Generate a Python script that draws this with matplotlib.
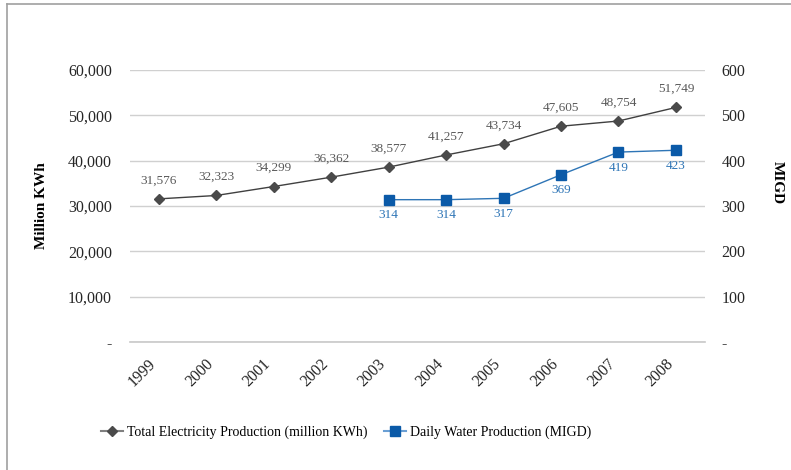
import matplotlib.pyplot as plt
import matplotlib.transforms as mtransforms
from matplotlib.lines import Line2D

years = ['1999', '2000', '2001', '2002', '2003', '2004', '2005', '2006', '2007', '2008']
electricity = [31576, 32323, 34299, 36362, 38577, 41257, 43734, 47605, 48754, 51749]
water_years = ['2003', '2004', '2005', '2006', '2007', '2008']
water = [314, 314, 317, 369, 419, 423]

plt.rcParams['font.family'] = ['Liberation Serif', 'DejaVu Serif']

fig = plt.figure(figsize=(7.91, 4.70), dpi=100)
ax = fig.add_axes([0.1643, 0.2723, 0.7266, 0.5787])
ax2 = ax.twinx()

x = list(range(len(years)))
xw = [years.index(y) for y in water_years]

elec_col = '#404040'
water_col = '#0b5aa8'
water_line = '#2e75b6'

ax.axhline(0, color='#c8c8c8', lw=1.2, clip_on=False, zorder=1)
ax.plot(x, electricity, color=elec_col, lw=1, marker='D', ms=5.5, mfc='#4a4a4a', mec='#4a4a4a', zorder=3)
for xi, v in zip(x, electricity):
    ax.annotate(f'{v:,}', (xi, v), xytext=(0, 9), textcoords='offset points',
                ha='center', va='bottom', fontsize=9.5, color='#595959')

ax2.plot(xw, water, color=water_line, lw=1, marker='s', ms=7, mfc=water_col, mec=water_col, zorder=3)
for xi, v in zip(xw, water):
    ax2.annotate(f'{v}', (xi, v), xytext=(0, -7), textcoords='offset points',
                 ha='center', va='top', fontsize=9.5, color=water_line)

ax.set_xlim(-0.5, 9.5)
ax.set_ylim(0, 60000)
ax2.set_ylim(0, 600)

ax.set_yticks(range(0, 60001, 10000))
ax.set_yticklabels(['-'] + [f'{v:,}' for v in range(10000, 60001, 10000)])
ax2.set_yticks(range(0, 601, 100))
ax2.set_yticklabels(['-'] + [str(v) for v in range(100, 601, 100)])

ax.grid(axis='y', color='#d0d0d0', lw=1)
ax.set_axisbelow(True)
for a in (ax, ax2):
    for s in a.spines.values():
        s.set_visible(False)
    a.tick_params(length=0, labelsize=11.5, colors='#262626')
ax.tick_params(axis='y', pad=13)
ax2.tick_params(axis='y', pad=12)
ax.tick_params(axis='x', pad=10)

ax.set_xticks(x)
ax.set_xticklabels(years, rotation=45, ha='right', va='top', rotation_mode='anchor')
# Excel puts the rotated labels a bit left of the category centre
shift = mtransforms.ScaledTranslation(-11/100, 0, fig.dpi_scale_trans)
for lab in ax.get_xticklabels():
    lab.set_transform(lab.get_transform() + shift)

ax.set_ylabel('Million KWh', fontsize=11, fontweight='bold', labelpad=14)
ax2.set_ylabel('MIGD', fontsize=11, fontweight='bold', rotation=270, va='center')
ax2.yaxis.set_label_coords(1.127, 0.585)

h_elec = Line2D([], [], color='#808080', lw=1.5, marker='D', ms=5, mfc='#4a4a4a', mec='#4a4a4a')
h_water = Line2D([], [], color='#6a9fd4', lw=1.5, marker='s', ms=7, mfc=water_col, mec=water_col)
leg1 = fig.legend([h_elec], ['Total Electricity Production (million KWh)'],
                  loc='center left', bbox_to_anchor=(88/791, 0.081), frameon=False, fontsize=10,
                  handlelength=1.6, handletextpad=0.3)
leg2 = fig.legend([h_water], ['Daily Water Production (MIGD)'],
                  loc='center left', bbox_to_anchor=(371/791, 0.081), frameon=False, fontsize=10,
                  handlelength=1.6, handletextpad=0.3)

# partial frame around chart area
fig.add_artist(Line2D([7/791, 1], [1 - 4/470, 1 - 4/470], color='#a0a0a0', lw=1.2))
fig.add_artist(Line2D([7/791, 7/791], [0, 1 - 4/470], color='#a0a0a0', lw=1.2))

fig.savefig('out.png', dpi=100)
